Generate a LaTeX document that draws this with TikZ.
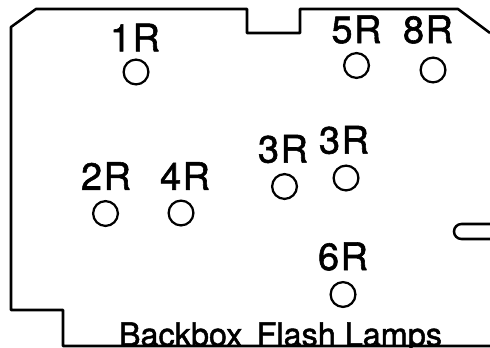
\documentclass[tikz,border=0pt]{standalone}
\usepackage{fontspec}
\setmainfont[FakeBold=1.5]{TeX Gyre Heros}
\newfontfamily\lampfont[LetterSpace=4, FakeBold=1.5]{TeX Gyre Heros}
\tikzset{
	lamp/.style = {circle, draw, line width = 1.6pt, minimum size = 0.62cm, inner sep = 0},
	lamplabel/.style = {inner sep = 0, font = \lampfont\fontsize{27}{27}\selectfont},
	board/.style = {line width = 1.8pt, line join = round}
}
\begin{document}
\begin{tikzpicture}[x = 0.025cm, y = -0.025cm]
		\useasboundingbox (0, 0) rectangle (490, 347);

		\draw [board] (490, 33) -- (458, 9) -- (300, 9) -- (300, 33) -- (247, 33) -- (247, 9) -- (36, 9) -- (11, 27) -- (11, 310) -- (63, 310) -- (63, 346) -- (490, 346);
		\draw [board, rounded corners = 5.3pt] (490, 224) -- (454, 224) -- (454, 239) -- (490, 239);

		\node [lamp] (lamp1) at (136, 72) {};
		\node [lamp] (lamp2) at (105.5, 213.5) {};
		\node [lamp] (lamp4) at (181, 213) {};
		\node [lamp] (lamp3a) at (284.5, 186.5) {};
		\node [lamp] (lamp3b) at (346, 178) {};
		\node [lamp] (lamp5) at (356.5, 65.5) {};
		\node [lamp] (lamp8) at (433, 70) {};
		\node [lamp] (lamp6) at (343, 294.5) {};

		\node [lamplabel] (label1) at (135, 37.5) {1R};
		\node [lamplabel] (label2) at (106, 176) {2R};
		\node [lamplabel] (label4) at (185, 176) {4R};
		\node [lamplabel] (label3a) at (283, 149) {3R};
		\node [lamplabel] (label3b) at (344, 140) {3R};
		\node [lamplabel] (label5) at (356.5, 29.5) {5R};
		\node [lamplabel] (label8) at (428, 29.5) {8R};
		\node [lamplabel] (label6) at (343, 256.5) {6R};

		\node [anchor = base, inner sep = 0, font = \fontsize{23}{23}\selectfont] (title) at (280.5, 346) {Backbox\, Flash Lamps};
	\end{tikzpicture}
\end{document}
